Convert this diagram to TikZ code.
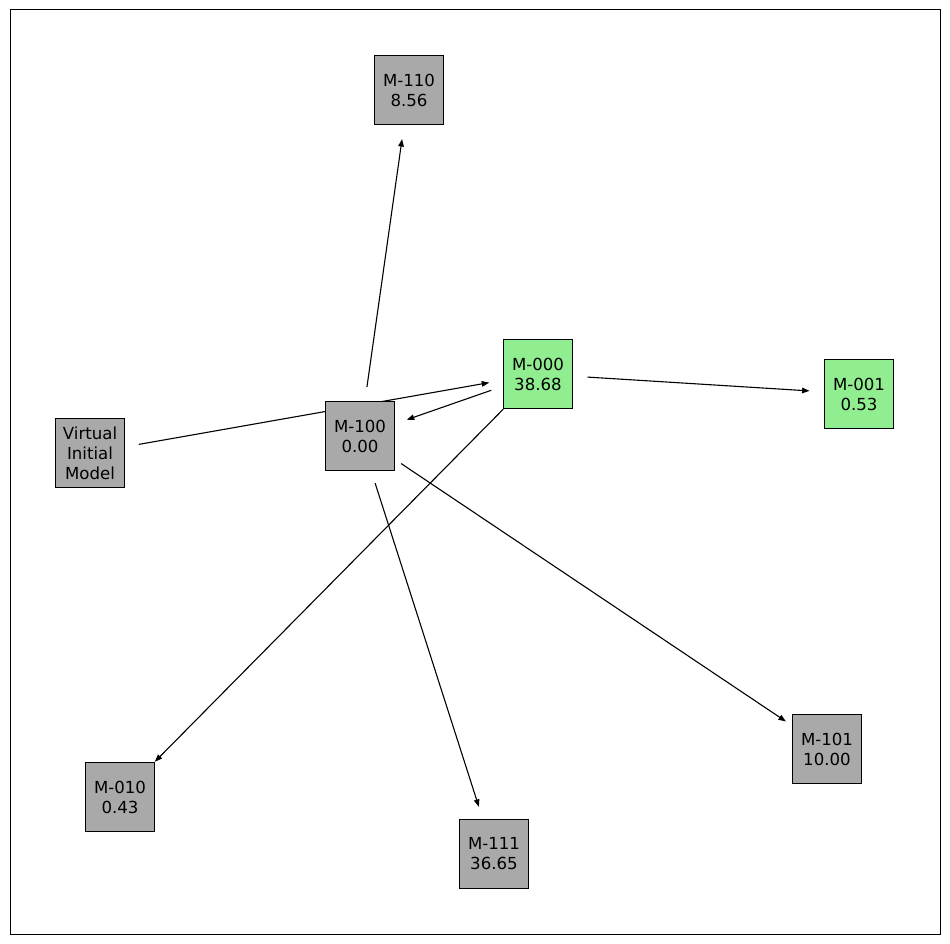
\documentclass[tikz,border=0pt]{standalone}
\usepackage{fontspec}
\setmainfont{DejaVu Sans}
\usetikzlibrary{arrows.meta}
\definecolor{boxgray}{HTML}{A9A9A9}
\definecolor{boxgreen}{HTML}{90EE90}
\tikzset{
  mbox/.style={draw=black, line width=1pt, minimum width=69pt, minimum height=69pt, inner sep=0pt, align=center, font=\fontsize{16.6}{20}\selectfont},
  graybox/.style={mbox, fill=boxgray},
  greenbox/.style={mbox, fill=boxgreen},
  edge/.style={draw=black, line width=1.1pt, -{Triangle[length=7.5pt,width=5.5pt]}, shorten >=49.5pt, shorten <=49.5pt}
}
\begin{document}
\begin{tikzpicture}[x=1pt,y=-1pt]
\useasboundingbox (0,0) rectangle (950,944);
\draw[line width=1pt] (10,10) rectangle (940,934);
% node positions
\coordinate (p110) at (409,90);
\coordinate (p000) at (538,374);
\coordinate (p001) at (859,394);
\coordinate (pvim) at (90,453);
\coordinate (p100) at (360,436);
\coordinate (p010) at (120,797);
\coordinate (p111) at (494,854);
\coordinate (p101) at (827,749);
% edges
\draw[edge] (pvim) -- (p000);
\draw[edge] (p000) -- (p100);
\draw[edge] (p100) -- (p110);
\draw[edge] (p000) -- (p001);
\draw[edge] (p000) -- (p010);
\draw[edge] (p100) -- (p111);
\draw[edge] (p100) -- (p101);
% nodes
\node[graybox] (m110) at (p110) {M-110\\8.56};
\node[greenbox] (m000) at (p000) {M-000\\38.68};
\node[greenbox] (m001) at (p001) {M-001\\0.53};
\node[graybox] (vim) at (pvim) {Virtual\\Initial\\Model};
\node[graybox] (m100) at (p100) {M-100\\0.00};
\node[graybox] (m010) at (p010) {M-010\\0.43};
\node[graybox] (m111) at (p111) {M-111\\36.65};
\node[graybox] (m101) at (p101) {M-101\\10.00};
\end{tikzpicture}
\end{document}
